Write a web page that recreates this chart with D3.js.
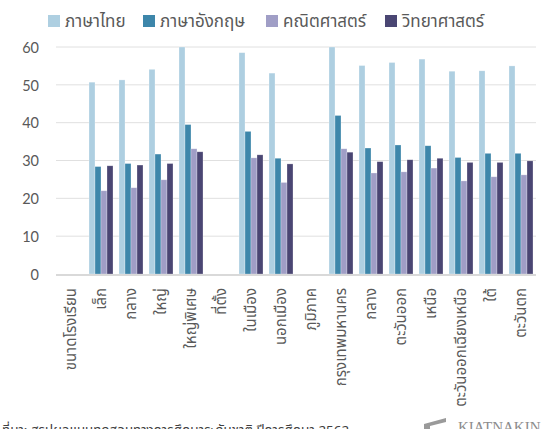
<!DOCTYPE html>
<html>
<head>
<meta charset="utf-8">
<script src="https://cdn.jsdelivr.net/npm/d3@7"></script>
<style>
html,body{margin:0;padding:0;background:#fff;overflow:hidden;}
svg{display:block;}
text{font-family:"Noto Sans Thai","Noto Sans",Lato,sans-serif;}
</style>
</head>
<body>
<svg id="chart" width="547" height="429"></svg>
<script>
const categories = ["ขนาดโรงเรียน","เล็ก","กลาง","ใหญ่","ใหญ่พิเศษ","ที่ตั้ง","ในเมือง","นอกเมือง","ภูมิภาค","กรุงเทพมหานคร","กลาง","ตะวันออก","เหนือ","ตะวันออกเฉียงเหนือ","ใต้","ตะวันตก"];
const seriesNames = ["ภาษาไทย","ภาษาอังกฤษ","คณิตศาสตร์","วิทยาศาสตร์"];
const thai    = [null,50.7,51.3,54.1,60.0,null,58.5,53.1,null,60.0,55.1,55.9,56.8,53.6,53.7,55.0];
const english = [null,28.4,29.2,31.7,39.5,null,37.7,30.6,null,41.9,33.3,34.1,33.9,30.8,31.9,31.9];
const math    = [null,22.0,22.8,24.9,33.1,null,30.7,24.2,null,33.1,26.7,27.0,28.0,24.6,25.7,26.2];
const science = [null,28.6,28.8,29.2,32.3,null,31.5,29.1,null,32.2,29.7,30.2,30.6,29.5,29.5,29.9];
const yTicks = [0,10,20,30,40,50,60];
const colors = ["#aecfe1","#3d86aa","#a09ec6","#4a4673"];
const sourceText = "ที่มา: สรุปผลแบบทดสอบทางการศึกษาระดับชาติ ปีการศึกษา 2562";

(function () {
const series = [thai, english, math, science];
const svg = d3.select("#chart");
const mLeft = 56, mRight = 536, mTop = 47, mBottom = 274;

const x = d3.scaleBand().domain(d3.range(categories.length)).range([mLeft, mRight]).paddingInner(0.2).paddingOuter(0.1);
const xs = d3.scaleBand().domain(d3.range(series.length)).range([0, x.bandwidth()]);
const y = d3.scaleLinear().domain([0, 60]).range([mBottom, mTop]).clamp(true);

// gridlines
svg.append("g").selectAll("line").data(yTicks.filter(d => d > 0)).join("line")
  .attr("x1", mLeft).attr("x2", mRight)
  .attr("y1", d => y(d)).attr("y2", d => y(d))
  .attr("stroke", "#e0e0e0").attr("stroke-width", 1);

// y axis labels
const yAxis = d3.axisLeft(y).tickValues(yTicks).tickSize(0).tickPadding(0);
const ya = svg.append("g").attr("transform", `translate(${mLeft - 17},0)`).call(yAxis);
ya.select(".domain").remove();
ya.selectAll("text").attr("font-size", 14.5).attr("fill", "#595959")
  .style("font-family", "Lato, 'Noto Sans', sans-serif").attr("dy", "0.36em");

// bars
const g = svg.append("g");
series.forEach((vals, si) => {
  g.append("g").selectAll("rect").data(vals.map((v, i) => ({v, i})).filter(d => d.v != null)).join("rect")
    .attr("x", d => x(d.i) + xs(si))
    .attr("width", xs.bandwidth())
    .attr("y", d => y(d.v))
    .attr("height", d => mBottom - y(d.v))
    .attr("fill", colors[si])
    .attr("stroke", "#ffffff").attr("stroke-opacity", 0.45).attr("stroke-width", 0.6);
});

// x axis baseline
svg.append("line").attr("x1", mLeft).attr("x2", mRight).attr("y1", mBottom + 1).attr("y2", mBottom + 1)
  .attr("stroke", "#d9d9d9").attr("stroke-width", 2);

// x labels
svg.append("g").selectAll("text").data(categories).join("text")
  .attr("transform", (d, i) => `translate(${x(i) + x.bandwidth() / 2},288) rotate(-90)`)
  .attr("text-anchor", "end").attr("dy", "0.35em")
  .attr("font-size", 15).attr("fill", "#595959")
  .text(d => d);

// legend
const legendX = [48, 143, 266, 385];
const lg = svg.append("g");
seriesNames.forEach((name, i) => {
  lg.append("rect").attr("x", legendX[i]).attr("y", 15).attr("width", 12).attr("height", 12).attr("fill", colors[i]);
  lg.append("text").attr("x", legendX[i] + 17).attr("y", 27).attr("font-size", 17).attr("fill", "#595959").text(name);
});

// source
svg.append("text").attr("x", 2).attr("y", 435).attr("font-size", 13.4).attr("fill", "#404040").text(sourceText);

// logo
const logo = svg.append("g").attr("fill", "#9a9a9a");
logo.append("path").attr("d", "M424 424 L446 418 L446 422 L430 426 L430 429 L424 429 Z");
logo.append("text").attr("x", 458).attr("y", 432).attr("font-size", 15)
  .style("font-family", "'Liberation Serif', serif").attr("fill", "#8c8c8c").text("KIATNAKIN");
})();
</script>
</body>
</html>
